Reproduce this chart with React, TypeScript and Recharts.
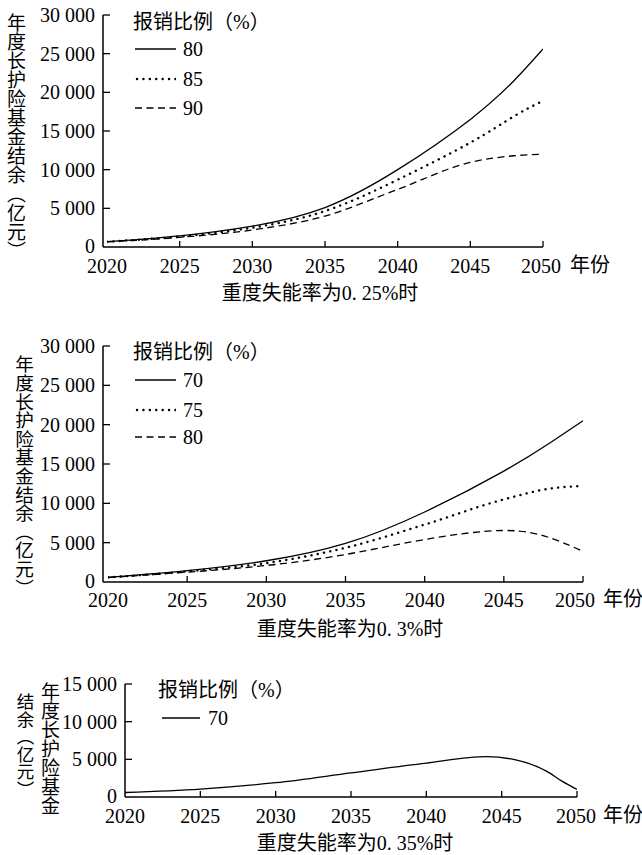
import React from 'react';
import { LineChart, Line, XAxis, YAxis } from 'recharts';

// ---------- data ----------
const X_TICKS = [2020, 2025, 2030, 2035, 2040, 2045, 2050];

// chart 1: 重度失能率 0.25%
const YEARS_1 = [2020, 2025, 2030, 2035, 2040, 2045, 2048, 2050];
const C1_R80 = [700, 1450, 2700, 5100, 10000, 16500, 21500, 25600];
const C1_R85 = [680, 1350, 2500, 4650, 8700, 13500, 16900, 18900];
const C1_R90 = [650, 1250, 2200, 4000, 7450, 10950, 11800, 12000];
const C1_Y_TICKS = [0, 5000, 10000, 15000, 20000, 25000, 30000];
const C1_LABELS = ['80', '85', '90'];

// chart 2: 重度失能率 0.3%
const YEARS_2 = [2020, 2025, 2030, 2035, 2040, 2045, 2048, 2050];
const C2_R70 = [600, 1450, 2700, 4900, 8900, 14100, 17800, 20500];
const C2_R75 = [580, 1350, 2400, 4350, 7300, 10500, 11900, 12200];
const C2_R80 = [550, 1250, 2100, 3500, 5400, 6550, 5550, 3900];
const C2_Y_TICKS = [0, 5000, 10000, 15000, 20000, 25000, 30000];
const C2_LABELS = ['70', '75', '80'];

// chart 3: 重度失能率 0.35%
const YEARS_3 = [2020, 2025, 2030, 2035, 2040, 2044, 2046, 2048, 2049, 2050];
const C3_R70 = [600, 1050, 1900, 3200, 4500, 5350, 4900, 3400, 2100, 1000];
const C3_Y_TICKS = [0, 5000, 10000, 15000];
const C3_LABELS = ['70'];

const Y_LABEL = '年度长护险基金结余（亿元）';
const LEGEND_TITLE = '报销比例（%）';
const X_UNIT = '年份';
const SUB_1 = '重度失能率为0. 25%时';
const SUB_2 = '重度失能率为0. 3%时';
const SUB_3 = '重度失能率为0. 35%时';

// ---------- helpers ----------
const FONT = "'Liberation Serif', 'Times New Roman', 'Noto Sans CJK SC', serif";

function build(years: number[], series: Record<string, number[]>) {
  return years.map((y, i) => {
    const o: any = { year: y };
    for (const k of Object.keys(series)) o[k] = series[k][i];
    return o;
  });
}

const data1 = build(YEARS_1, { a: C1_R80, b: C1_R85, c: C1_R90 });
const data2 = build(YEARS_2, { a: C2_R70, b: C2_R75, c: C2_R80 });
const data3 = build(YEARS_3, { a: C3_R70 });

const STYLES: any[] = [
  { strokeWidth: 1.3 },
  { strokeWidth: 2.4, strokeDasharray: '0.1 6.3', strokeLinecap: 'round' },
  { strokeWidth: 1.3, strokeDasharray: '7 4.5' },
];

const fmt = (v: number) => (v === 0 ? '0' : v.toLocaleString('en-US').replace(/,/g, ' '));

const makeXTick = (dy: number, lastShift: number) => (props: any) => {
  const { x, y, payload } = props;
  const shift = payload.value === 2050 ? lastShift : 0;
  return (
    <g>
      {payload.value !== 2020 && (
        <line x1={x} y1={y} x2={x} y2={y - 6} stroke="#000" strokeWidth={1.3} />
      )}
      <text x={x + shift} y={y + dy} textAnchor="middle" dominantBaseline="central" fontFamily={FONT} fontSize={20} fill="#000">
        {payload.value}
      </text>
    </g>
  );
};

const YTick = (props: any) => {
  const { x, y, payload } = props;
  return (
    <g>
      {payload.value !== 0 && (
        <line x1={x} y1={y} x2={x + 7} y2={y} stroke="#000" strokeWidth={1.3} />
      )}
      <text x={x - 8} y={payload.value === 0 ? y - 1.5 : y} textAnchor="end" dominantBaseline="central" fontFamily={FONT} fontSize={20} fill="#000">
        {fmt(payload.value)}
      </text>
    </g>
  );
};

const abs = (left: number, top: number, extra: any = {}): any => ({
  position: 'absolute',
  left,
  top,
  whiteSpace: 'nowrap',
  fontFamily: FONT,
  color: '#000',
  ...extra,
});

function Legend({ left, titleY, rows, x1, x2, labelX, labels }: any) {
  return (
    <>
      <div style={abs(left, titleY - 11, { fontSize: 20, lineHeight: '22px' })}>{LEGEND_TITLE}</div>
      {labels.map((lab: string, i: number) => (
        <React.Fragment key={lab}>
          <svg style={{ position: 'absolute', left: x1, top: rows[i] - 5 }} width={x2 - x1} height={10}>
            <line x1={i === 1 ? 2 : 0} y1={5} x2={x2 - x1} y2={5} stroke="#000" {...STYLES[i]} />
          </svg>
          <div style={abs(labelX, rows[i] - 11, { fontSize: 20, lineHeight: '22px' })}>{lab}</div>
        </React.Fragment>
      ))}
    </>
  );
}

function Chart({ top, height, marginTop, marginRight, yWidth, padLeft, data, yTicks, keys, xDy, lastShift, curves }: any) {
  return (
    <div style={{ position: 'absolute', left: 0, top }}>
      <LineChart width={642} height={height} data={data} margin={{ top: marginTop, right: marginRight, bottom: 0, left: 0 }}>
        <XAxis
          dataKey="year"
          type="number"
          domain={[2020, 2050]}
          ticks={X_TICKS}
          interval={0}
          padding={{ left: padLeft, right: 0 }}
          height={30}
          tickSize={0}
          tickMargin={0}
          tickLine={false}
          axisLine={{ stroke: '#000', strokeWidth: 1.5 }}
          tick={makeXTick(xDy, lastShift)}
          allowDataOverflow
        />
        <YAxis
          type="number"
          domain={[0, yTicks[yTicks.length - 1]]}
          ticks={yTicks}
          interval={0}
          width={yWidth}
          tickSize={0}
          tickMargin={0}
          tickLine={false}
          axisLine={{ stroke: '#000', strokeWidth: 1.5 }}
          tick={YTick}
          allowDataOverflow
        />
        {keys.map((k: string, i: number) => (
          <Line
            key={k}
            dataKey={k}
            type={curves[i]}
            stroke="#000"
            fill="none"
            dot={false}
            activeDot={false}
            isAnimationActive={false}
            {...STYLES[i]}
          />
        ))}
      </LineChart>
    </div>
  );
}

export default function App() {
  return (
    <div style={{ position: 'absolute', left: 0, top: 0, width: 642, height: 855, background: '#fff', overflow: 'hidden' }}>
      {/* chart 1 */}
      <Chart top={0} height={277} marginTop={15} marginRight={99} yWidth={103} padLeft={4} data={data1} yTicks={C1_Y_TICKS} keys={['a', 'b', 'c']} xDy={18.5} lastShift={-2} curves={['natural', 'natural', 'monotone']} />
      <div style={abs(5, 13, { writingMode: 'vertical-rl', fontSize: 19, lineHeight: '19px' })}>{Y_LABEL}</div>
      <Legend left={133} titleY={22} rows={[49, 79, 108]} x1={135} x2={176} labelX={183} labels={C1_LABELS} />
      <div style={abs(570, 254, { fontSize: 20, lineHeight: '22px' })}>{X_UNIT}</div>
      <div style={abs(320, 282, { fontSize: 20, lineHeight: '22px', transform: 'translateX(-50%)' })}>{SUB_1}</div>

      {/* chart 2 */}
      <Chart top={330} height={282} marginTop={16} marginRight={59} yWidth={103} padLeft={5} data={data2} yTicks={C2_Y_TICKS} keys={['a', 'b', 'c']} xDy={18} lastShift={-8} curves={['natural', 'monotone', 'natural']} />
      <div style={abs(13, 355, { writingMode: 'vertical-rl', fontSize: 18.6, lineHeight: '19px' })}>{Y_LABEL}</div>
      <Legend left={133} titleY={352} rows={[380, 410, 437]} x1={135} x2={176} labelX={183} labels={C2_LABELS} />
      <div style={abs(603, 588, { fontSize: 20, lineHeight: '22px' })}>{X_UNIT}</div>
      <div style={abs(350, 618, { fontSize: 20, lineHeight: '22px', transform: 'translateX(-50%)' })}>{SUB_2}</div>

      {/* chart 3 */}
      <Chart top={670} height={157} marginTop={14} marginRight={65} yWidth={125} padLeft={0} data={data3} yTicks={C3_Y_TICKS} keys={['a']} xDy={18.5} lastShift={-1} curves={['monotone']} />
      <div style={abs(39, 682, { writingMode: 'vertical-rl', fontSize: 19, lineHeight: '19px' })}>{Y_LABEL.slice(0, 7)}</div>
      <div style={abs(14, 693, { writingMode: 'vertical-rl', fontSize: 17.5, lineHeight: '19px' })}>{Y_LABEL.slice(7)}</div>
      <Legend left={158} titleY={690} rows={[718]} x1={162} x2={200} labelX={208} labels={C3_LABELS} />
      <div style={abs(603, 804, { fontSize: 20, lineHeight: '22px' })}>{X_UNIT}</div>
      <div style={abs(355, 832, { fontSize: 20, lineHeight: '22px', transform: 'translateX(-50%)' })}>{SUB_3}</div>
    </div>
  );
}
